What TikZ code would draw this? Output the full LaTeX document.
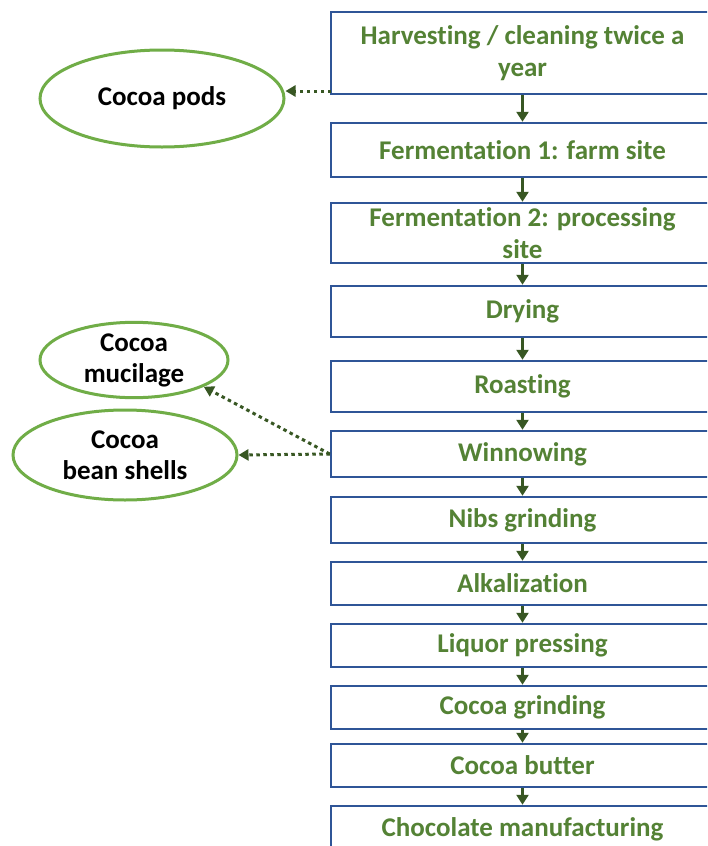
\documentclass[tikz,border=0pt]{standalone}
\usepackage{fontspec}
\setmainfont{Carlito}[Ligatures=NoCommon]
\usetikzlibrary{shapes.geometric,arrows.meta}
\definecolor{boxblue}{HTML}{2F5597}
\definecolor{stepgreen}{HTML}{548235}
\definecolor{ovalgreen}{HTML}{70AD47}
\definecolor{arrowgreen}{HTML}{385723}
\tikzset{
  stage/.style={draw=boxblue, line width=2.5pt, fill=white, minimum width=383pt,
    inner sep=0pt, align=center, text=stepgreen,
    font=\bfseries\fontsize{27}{32}\selectfont},
  byproduct/.style={ellipse, draw=ovalgreen, line width=3pt, inner sep=0pt,
    align=center, font=\bfseries\fontsize{27}{31}\selectfont},
  flow/.style={draw=arrowgreen, line width=3.5pt, -{Triangle[length=10pt,width=12pt]}},
  sideflow/.style={draw=arrowgreen, line width=3pt, dash pattern=on 3.5pt off 3.5pt,
    -{Triangle[length=10pt,width=11pt]}}
}
\begin{document}
\begin{tikzpicture}[x=1pt,y=-1pt]
\clip (0,0) rectangle (707,846);
\fill[white] (0,0) rectangle (707,846);

% process stages
\node[stage, minimum height=82pt] (b1)  at (522.5,53)    {Harvesting / cleaning twice a\\year};
\node[stage, minimum height=54pt] (b2)  at (522.5,150)   {Fermentation 1: farm site};
\node[stage, minimum height=60pt] (b3)  at (522.5,233)   {Fermentation 2: processing\\site};
\node[stage, minimum height=51pt] (b4)  at (522.5,311.5) {Drying};
\node[stage, minimum height=51pt] (b5)  at (522.5,386.5) {Roasting};
\node[stage, minimum height=46pt] (b6)  at (522.5,454)   {Winnowing};
\node[stage, minimum height=46pt] (b7)  at (522.5,520)   {Nibs grinding};
\node[stage, minimum height=43pt] (b8)  at (522.5,583.5) {Alkalization};
\node[stage, minimum height=43pt] (b9)  at (522.5,645.5) {Liquor pressing};
\node[stage, minimum height=43pt] (b10) at (522.5,707.5) {Cocoa grinding};
\node[stage, minimum height=43pt] (b11) at (522.5,765.5) {Cocoa butter};
\node[stage, minimum height=46pt] (b12) at (522.5,829)   {Chocolate manufacturing};

% by-products
\node[byproduct, minimum width=244pt, minimum height=97pt] (pods) at (162,98.5) {Cocoa pods};
\node[byproduct, minimum width=188pt, minimum height=74pt] (mucilage) at (134,360) {Cocoa\\mucilage};
\node[byproduct, minimum width=224pt, minimum height=90pt] (shells) at (125,455) {Cocoa\\bean shells};

% main flow
\foreach \a/\b in {b1/b2,b2/b3,b3/b4,b4/b5,b5/b6,b6/b7,b7/b8,b8/b9,b9/b10,b10/b11,b11/b12}
  \draw[flow] (\a) -- (\b);

% side streams
\coordinate (podsout) at (331,91);
\draw[sideflow] (podsout) -- (podsout -| pods.east);
\draw[sideflow] (b6.west) -- (shells.east);
\draw[sideflow] (b6.west) -- (mucilage.-21);
\end{tikzpicture}
\end{document}
